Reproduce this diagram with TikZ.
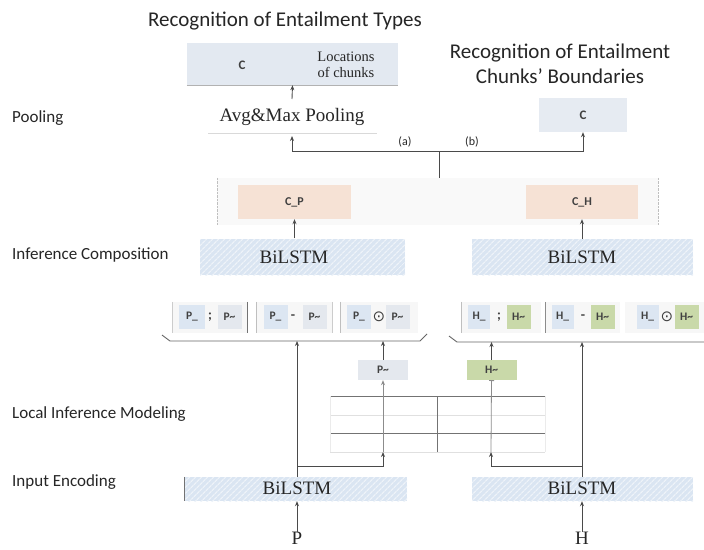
\documentclass[tikz,border=0pt]{standalone}
\usepackage{fontspec}
\setmainfont{Liberation Serif}
\setsansfont{Carlito}
\newfontfamily\symfont{DejaVu Sans}
\usetikzlibrary{arrows.meta,patterns.meta,calc}
\definecolor{boxblue}{HTML}{E3E9F1}
\definecolor{hatchbase}{HTML}{DAE5F2}
\definecolor{hatchline}{HTML}{EEF3F9}
\definecolor{peach}{HTML}{F6E2D5}
\definecolor{hgreen}{HTML}{C9D9A9}
\definecolor{pblue}{HTML}{DCE6F2}
\definecolor{pgray}{HTML}{E4E8EE}
\definecolor{conn}{HTML}{4A4A4A}
\definecolor{txt}{HTML}{262626}
\definecolor{stxt}{HTML}{404040}
\begin{document}
\begin{tikzpicture}[x=1pt,y=-1pt,
  lbl/.style={font=\sffamily\fontsize{17}{20}\selectfont, text=txt, anchor=west, inner sep=0},
  ttl/.style={font=\sffamily\fontsize{21}{25}\selectfont, text=txt, align=center, inner sep=0},
  flat/.style={inner sep=0, draw=none},
  hatch/.style={flat, preaction={fill=hatchbase}, pattern={Lines[angle=45,distance=4pt,line width=1.3pt]}, pattern color=hatchline},
  serif/.style={inner sep=0, font=\fontsize{19}{20}\selectfont, text=txt},
  small/.style={inner sep=0, font=\sffamily\fontsize{12}{13}\selectfont, text=txt},
  bsmall/.style={inner sep=0, font=\sffamily\bfseries\fontsize{13}{13}\selectfont, text=stxt},
  sym/.style={inner sep=0, font=\sffamily\bfseries\fontsize{14}{14}\selectfont, text=stxt},
  cell/.style={flat, minimum width=24, minimum height=24, font=\sffamily\bfseries\fontsize{11.5}{13}\selectfont, text=stxt},
  grp/.style={flat, fill=black!3, minimum height=31},
  arr/.style={draw=conn, line width=0.9pt, -{Stealth[length=5pt,width=4pt]}},
  line/.style={draw=conn, line width=0.9pt},
]
\useasboundingbox (0,0) rectangle (704,549);
\fill[white] (0,0) rectangle (704,549);

% titles
\node[ttl] (t1) at (285,21) {Recognition of Entailment Types};
\node[ttl] (t2) at (560,64) {Recognition of Entailment\\Chunks' Boundaries};

% left labels
\node[lbl] (l1) at (12,118) {Pooling};
\node[lbl] (l2) at (12,255) {Inference Composition};
\node[lbl] (l3) at (12,414) {Local Inference Modeling};
\node[lbl] (l4) at (12,482) {Input Encoding};

% top box
\node[flat, fill=boxblue, minimum width=211, minimum height=42] (topbox) at (292.5,64) {};
\draw[black!30, line width=0.8pt] (topbox.south west) -- (topbox.south east);
\node[bsmall] (tc) at (242,65) {C};
\node[inner sep=0, font=\fontsize{14.5}{16}\selectfont, text=txt, align=center] (tl) at (346,65) {Locations\\of chunks};

% pooling
\node[serif] (avg) at (292,117) {Avg\&Max Pooling};
\draw[black!15, line width=0.8pt] (208,133) -- (377,133);
\coordinate (avgtip) at (292,136);
\coordinate (avgtop) at (292,99);
\draw[arr] (avgtop) -- (topbox.south);

\node[flat, fill=boxblue!90, minimum width=88, minimum height=34] (cbox) at (583,115) {};
\node[bsmall] (cc) at (583,115) {C};

% middle container
\node[flat, fill=black!2.5, minimum width=441, minimum height=47] (mid) at (437.5,201.5) {};
\draw[black!25, densely dotted] (mid.north west) -- (mid.south west);
\draw[black!25, densely dotted] (mid.north east) -- (mid.south east);
\node[flat, fill=peach, minimum width=113, minimum height=34, font=\sffamily\bfseries\fontsize{12}{13}\selectfont, text=stxt] (cp) at (294.5,202) {C\_P};
\node[flat, fill=peach, minimum width=112, minimum height=34, font=\sffamily\bfseries\fontsize{12}{13}\selectfont, text=stxt] (ch) at (582,202) {C\_H};

% junction
\coordinate (jn) at (439,151);
\draw[line] (mid.north -| jn) -- (jn);
\draw[arr] (jn) -| (avgtip);
\draw[arr] (jn) -| (cbox.south);
\node[small] (la) at (405,142) {(a)};
\node[small] (lb) at (472,142) {(b)};

% inference composition BiLSTMs
\node[hatch, minimum width=205, minimum height=36] (ic1) at (302.5,257) {};
\node[hatch, minimum width=221, minimum height=36] (ic2) at (582.5,257) {};
\node[serif] (ic1t) at (294,257) {BiLSTM};
\node[serif] (ic2t) at (582,257) {BiLSTM};
\draw[arr] (cp.south |- ic1.north) -- (cp.south);
\draw[arr] (ch.south |- ic2.north) -- (ch.south);

% concatenation groups (left)
\node[grp, minimum width=74] (g1) at (210,317.5) {};
\node[grp, minimum width=75] (g2) at (294.5,317.5) {};
\node[grp, minimum width=77] (g3) at (379.5,317.5) {};
\draw[black!55, line width=1.4pt] (g1.north east) -- (g1.south east);
\draw[black!25, line width=0.8pt] (g2.north west) -- (g2.south west);
\draw[black!20, line width=0.8pt] (g2.north east) -- (g2.south east);
\draw[black!25, line width=0.8pt] (g3.north west) -- (g3.south west);
\draw[black!20, line width=0.8pt] (g1.north west) -- (g1.south west);
\node[cell, fill=pblue, minimum width=26] (a1) at (192,317) {P\_};
\node[sym] (s1) at (210,317) {;};
\node[cell, fill=pgray] (a2) at (229.5,317) {P\textasciitilde};
\node[cell, fill=pblue] (a3) at (275.5,317) {P\_};
\node[sym] (s2) at (293,317) {-};
\node[cell, fill=pgray] (a4) at (314.5,317) {P\textasciitilde};
\node[cell, fill=pblue] (a5) at (359,317) {P\_};
\node[inner sep=0, font=\symfont\fontsize{15}{15}\selectfont, text=stxt] (s3) at (379,317) {⊙};
\node[cell, fill=pgray] (a6) at (397.5,317) {P\textasciitilde};

% concatenation groups (right)
\node[grp, minimum width=79] (h1) at (501.5,317.5) {};
\node[grp, minimum width=74] (h2) at (583,317.5) {};
\node[grp, minimum width=79] (h3) at (664.5,317.5) {};
\draw[black!25, line width=0.8pt] (h1.north west) -- (h1.south west);
\draw[black!45, line width=1.1pt] (h2.north west) -- (h2.south west);
\node[cell, fill=pblue, minimum width=22] (b1) at (479,317) {H\_};
\node[sym] (r1) at (499,317) {;};
\node[cell, fill=hgreen] (b2) at (518.5,317) {H\textasciitilde};
\node[cell, fill=pblue, minimum width=22] (b3) at (562.5,317) {H\_};
\node[sym] (r2) at (583,317) {-};
\node[cell, fill=hgreen] (b4) at (602.5,317) {H\textasciitilde};
\node[cell, fill=pblue, minimum width=22] (b5) at (647.5,317) {H\_};
\node[inner sep=0, font=\symfont\fontsize{15}{15}\selectfont, text=stxt] (r3) at (667,317) {⊙};
\node[cell, fill=hgreen] (b6) at (686.5,317) {H\textasciitilde};

% brackets
\coordinate (bl1) at (162,335);
\coordinate (bl2) at (170,341);
\coordinate (bl3) at (420,341);
\coordinate (bl4) at (427,334);
\draw[black!60, line width=0.9pt] (bl1) -- (bl2) -- (bl3) -- (bl4);
\coordinate (br1) at (449,336);
\coordinate (br2) at (457,342);
\coordinate (br3) at (704,342);
\draw[black!60, line width=0.9pt] (br1) -- (br2) -- (br3);

% P~ and H~ boxes
\node[flat, fill=pgray, minimum width=50, minimum height=20, font=\sffamily\bfseries\fontsize{11.5}{12}\selectfont, text=stxt] (pt) at (383,370) {P\textasciitilde};
\node[flat, fill=hgreen, minimum width=50, minimum height=20, font=\sffamily\bfseries\fontsize{11.5}{12}\selectfont, text=stxt] (ht) at (491.5,370) {H\textasciitilde};

% local inference grid
\draw[black!55, line width=0.8pt] (330,396) -- (545,396);
\draw[black!55, line width=0.8pt] (330,433) -- (545,433);
\draw[black!12, line width=0.8pt] (330,415) -- (545,415);
\draw[black!12, line width=0.8pt] (330,452) -- (545,452);
\draw[black!55, line width=0.8pt] (437,396) -- (437,452);
\draw[black!8, line width=0.8pt] (330,396) -- (330,452);
\draw[black!8, line width=0.8pt] (545,396) -- (545,452);
\coordinate (gl) at (383,452);
\coordinate (gr) at (491,452);

% input encoding
\node[hatch, minimum width=222, minimum height=24] (in1) at (296,489) {};
\node[hatch, minimum width=221, minimum height=24] (in2) at (582.5,489) {};
\draw[black!55, line width=1pt] (in1.north west) -- (in1.south west);
\node[serif] (in1t) at (297,488) {BiLSTM};
\node[serif] (in2t) at (582,488) {BiLSTM};

\node[serif, anchor=south] (P) at (297,545) {P};
\node[serif, anchor=south] (H) at (582,545) {H};
\draw[arr] (P.north) -- (P.north |- in1.south);
\draw[arr] (H.north) -- (H.north |- in2.south);

% connectors from input encoding
\coordinate (jl) at (297,466);
\coordinate (jr) at (582,466);
\draw[arr] (jl |- in1.north) -- (297,341);
\draw[arr] (jr |- in2.north) -- (582,342);
\draw[arr] (jl) -| (gl);
\draw[arr] (jr) -| (gr);
\draw[draw=black!45, line width=0.8pt, -{Stealth[length=5pt,width=4pt]}] (gl) -- (pt.south);
\draw[draw=black!45, line width=0.8pt, -{Bar[width=5pt]}] (gr) -- (ht.south);
\draw[arr] (pt.north) -- (383,341);
\draw[arr] (ht.north) -- (491.5,342);
\end{tikzpicture}
\end{document}
